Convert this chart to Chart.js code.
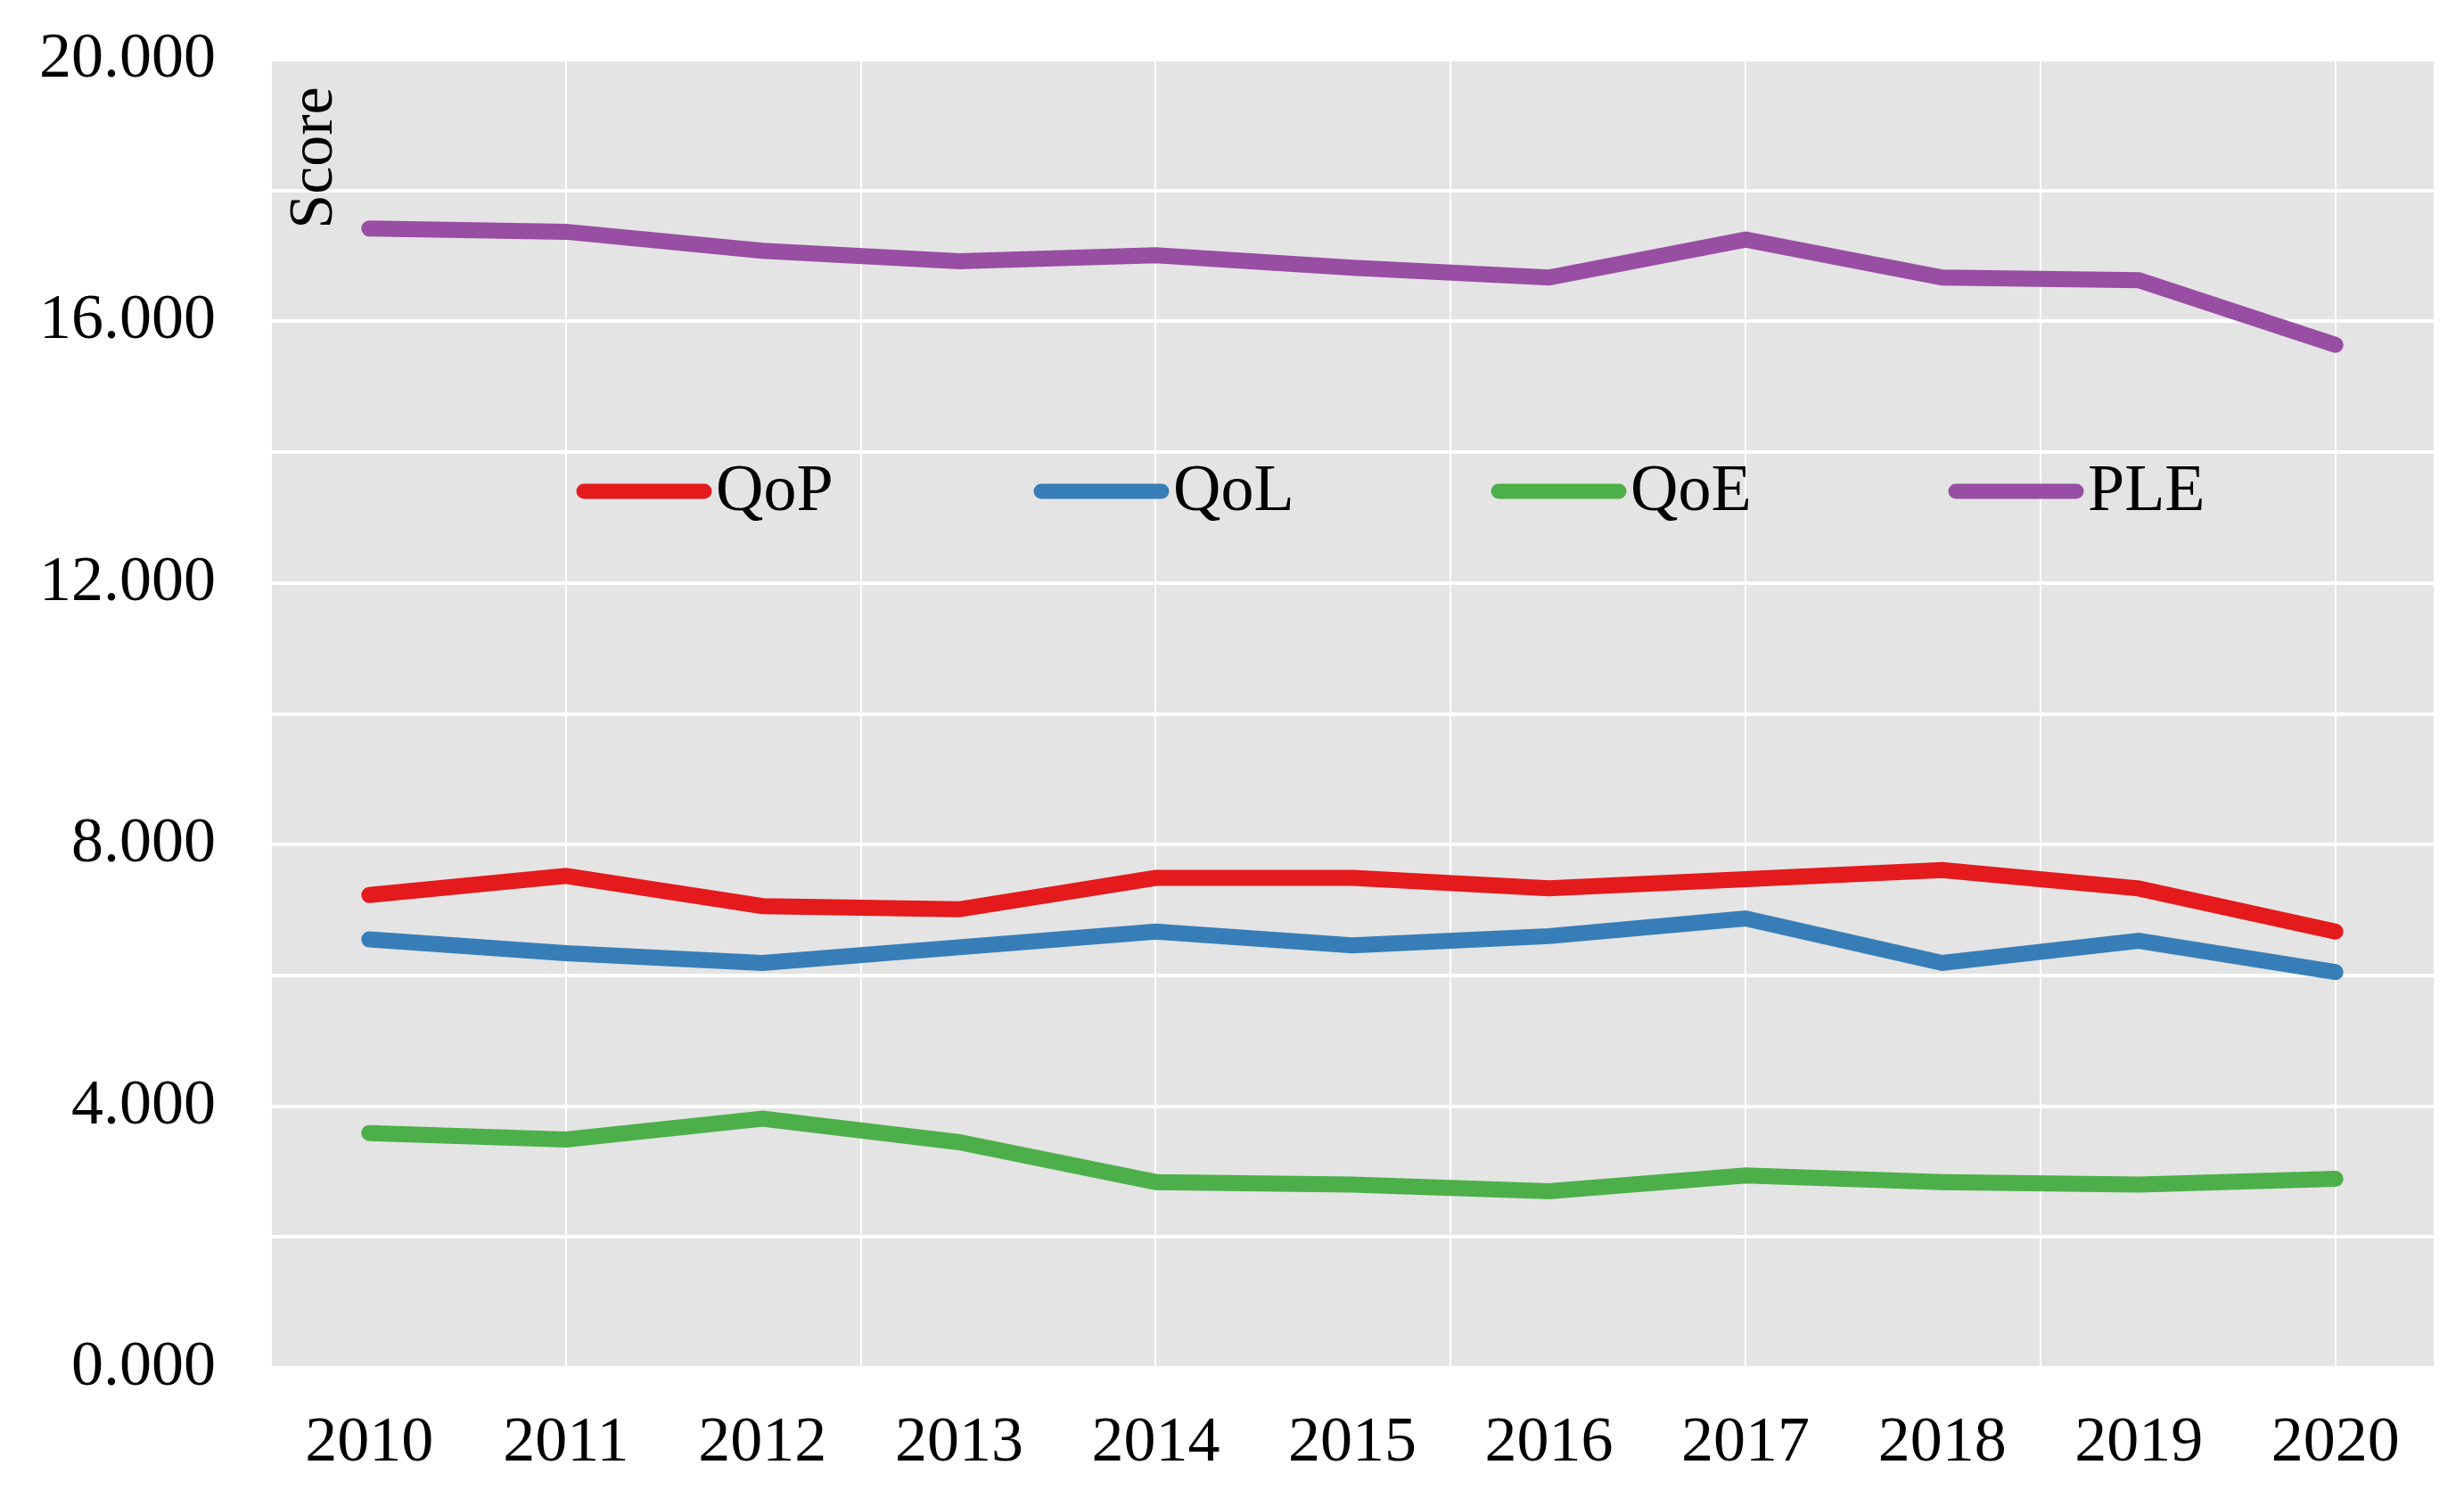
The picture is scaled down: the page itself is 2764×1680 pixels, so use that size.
<!DOCTYPE html>
<html>
<head>
<meta charset="utf-8">
<script src="https://cdn.jsdelivr.net/npm/chart.js@4.4.1/dist/chart.umd.min.js"></script>
<style>
  html, body { margin: 0; padding: 0; background: #fff; }
  #wrap { width: 2764px; height: 1680px; }
</style>
</head>
<body>
<div id="wrap"><canvas id="myChart"></canvas></div>
<script>
const years = [2010, 2011, 2012, 2013, 2014, 2015, 2016, 2017, 2018, 2019, 2020]
const seriesNames = ['QoP', 'QoL', 'QoE', 'PLE']
const qop = [7.23, 7.52, 7.06, 7.01, 7.49, 7.49, 7.33, 7.47, 7.61, 7.33, 6.67]
const qol = [6.55, 6.34, 6.19, 6.43, 6.67, 6.46, 6.60, 6.87, 6.19, 6.53, 6.05]
const qoe = [3.59, 3.49, 3.81, 3.45, 2.84, 2.80, 2.70, 2.94, 2.84, 2.80, 2.89]
const ple = [17.42, 17.37, 17.08, 16.92, 17.01, 16.82, 16.67, 17.25, 16.67, 16.63, 15.64]
const yLabelEvery = 4
const colors = ['#E41A1C', '#377EB8', '#4DAF4A', '#984EA3']

const FONT = '"Liberation Serif", "Times New Roman", serif'
const ctx = document.getElementById('myChart').getContext('2d')

function pts(vals) {
    return years.map((y, i) => ({ x: y, y: vals[i] }))
}

const bgPlugin = {
    id: 'bg',
    beforeDraw(chart) {
        const a = chart.chartArea
        const c = chart.ctx
        c.save()
        c.fillStyle = '#E4E4E4'
        c.fillRect(a.left, a.top, a.right - a.left, a.bottom - a.top)
        c.restore()
    }
}

// legend sits inside the plot, drawn by hand
const legendPlugin = {
    id: 'inlineLegend',
    afterDatasetsDraw(chart) {
        const c = chart.ctx
        const y = 551
        const startX = 655
        const gap = 513
        c.save()
        c.font = '74px ' + FONT
        c.textBaseline = 'middle'
        c.fillStyle = '#000'
        chart.data.datasets.forEach((ds, i) => {
            const x = startX + i * gap
            c.strokeStyle = ds.borderColor
            c.lineWidth = 17
            c.lineCap = 'round'
            c.beginPath()
            c.moveTo(x, y)
            c.lineTo(x + 135, y)
            c.stroke()
            c.fillText(ds.label, x + 148, y + 2)
        })
        // axis title inside the plot
        c.translate(354, 177)
        c.rotate(-Math.PI / 2)
        c.textAlign = 'center'
        c.font = '70px ' + FONT
        c.fillText('Score', 0, 0)
        c.restore()
    }
}

const myChart = new Chart(ctx, {
    type: 'line',
    data: {
        datasets: seriesNames.map((name, i) => ({
            label: name,
            data: pts([qop, qol, qoe, ple][i]),
            borderColor: colors[i],
            backgroundColor: colors[i],
            borderWidth: 18,
            borderCapStyle: 'round',
            borderJoinStyle: 'miter',
            pointRadius: 0,
            tension: 0
        }))
    },
    options: {
        responsive: true,
        maintainAspectRatio: false,
        devicePixelRatio: 1,
        animation: false,
        layout: { padding: { top: 67, right: 34, left: 0, bottom: 0 } },
        plugins: {
            legend: { display: false },
            tooltip: { enabled: false }
        },
        scales: {
            x: {
                type: 'linear',
                min: 2009.5,
                max: 2020.5,
                afterFit(scale) {
                    scale.height = 146
                    scale.paddingLeft = 0
                    scale.paddingRight = 0
                },
                border: { display: false },
                grid: {
                    drawTicks: false,
                    lineWidth: 2,
                    color(c) {
                        const v = c.tick ? c.tick.value : 0
                        const k = (v - 2009.5) / 1.5
                        return Math.abs(k - Math.round(k)) < 1e-6 ? '#FFFFFF' : 'rgba(0,0,0,0)'
                    }
                },
                ticks: {
                    stepSize: 0.5,
                    autoSkip: false,
                    maxRotation: 0,
                    padding: 42,
                    color: '#000',
                    font: { family: FONT, size: 72 },
                    callback(v) { return Number.isInteger(v) ? String(v) : '' }
                }
            },
            y: {
                min: 0,
                max: 20,
                afterFit(scale) {
                    scale.width = 304
                    scale.paddingTop = 0
                    scale.paddingBottom = 0
                },
                border: { display: false },
                grid: { drawTicks: false, lineWidth: 4, color: '#FFFFFF' },
                ticks: {
                    stepSize: 1,
                    padding: 62,
                    color: '#000',
                    font: { family: FONT, size: 72 },
                    callback(v) { return v % yLabelEvery === 0 ? v.toFixed(3) : '' }
                }
            }
        }
    },
    plugins: [bgPlugin, legendPlugin]
})
</script>
</body>
</html>
